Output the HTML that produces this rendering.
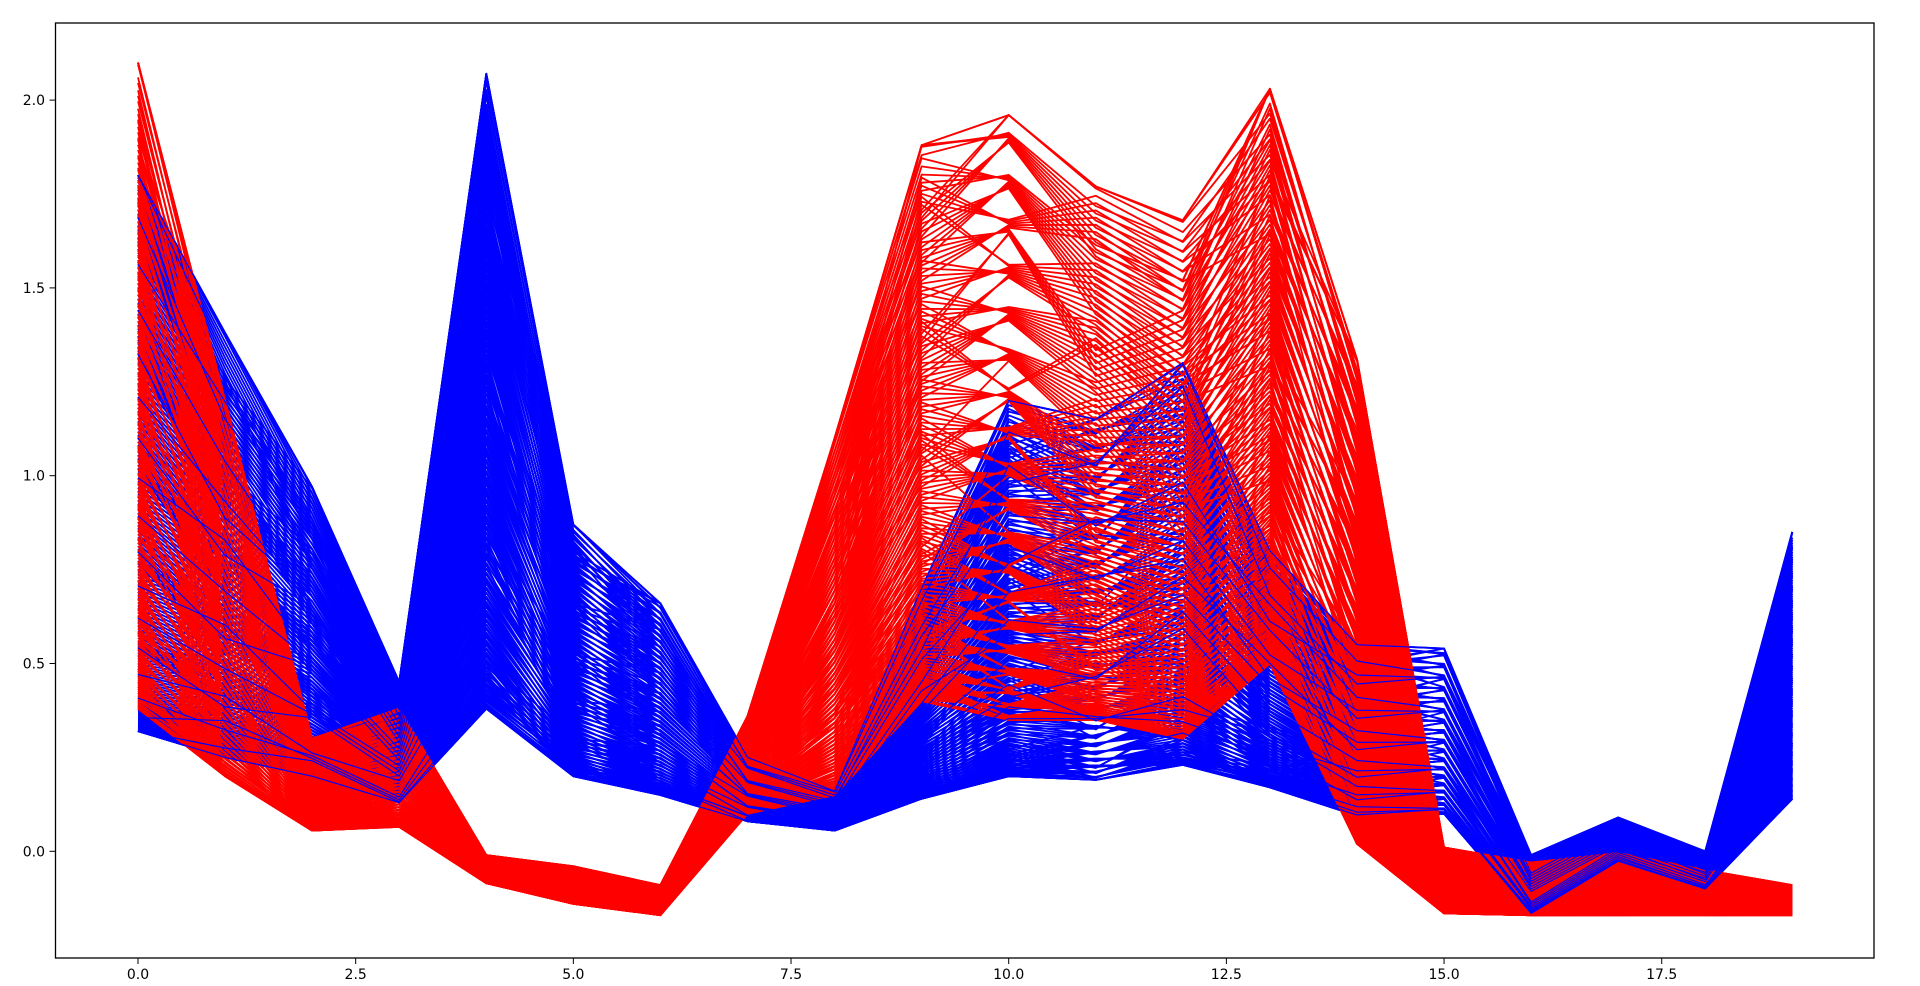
<!DOCTYPE html>
<html><head><meta charset="utf-8"><style>
html,body{margin:0;padding:0;background:#fff;}
svg{display:block;}
text{font-family:"DejaVu Sans","Liberation Sans",sans-serif;font-size:14px;fill:#000;}
</style></head><body>
<svg id="chart" width="1920" height="986" viewBox="0 0 1920 986" xmlns="http://www.w3.org/2000/svg">
<g id="lines"></g>
<rect x="55.5" y="23" width="1818.5" height="935" fill="none" stroke="#000" stroke-width="1.3"/>
<g id="axes"></g>
</svg>
<script>
const categories = [0,1,2,3,4,5,6,7,8,9,10,11,12,13,14,15,16,17,18,19];
const blueLow  = [0.32,0.25,0.20,0.13,0.38,0.20,0.15,0.08,0.055,0.14,0.20,0.19,0.23,0.17,0.095,0.10,-0.17,-0.03,-0.10,0.14];
const blueHigh = [1.80,1.38,0.97,0.45,2.07,0.87,0.66,0.25,0.16,0.70,1.20,1.15,1.30,0.80,0.55,0.54,-0.01,0.09,0.00,0.85];
const redLow   = [0.38,0.20,0.055,0.065,-0.085,-0.14,-0.17,0.10,0.15,0.40,0.35,0.35,0.30,0.50,0.02,-0.165,-0.17,-0.17,-0.17,-0.17];
const redHigh  = [2.10,1.20,0.30,0.38,-0.01,-0.04,-0.09,0.36,1.10,1.88,1.96,1.77,1.68,2.03,1.31,0.01,-0.03,-0.005,-0.05,-0.09];
const xTicks = [0,2.5,5,7.5,10,12.5,15,17.5];
const xTickLabels = ["0.0","2.5","5.0","7.5","10.0","12.5","15.0","17.5"];
const yTicks = [0,0.5,1,1.5,2];
const yTickLabels = ["0.0","0.5","1.0","1.5","2.0"];

const NS = "http://www.w3.org/2000/svg";
function xs(v){ return 138 + v*87.07; }
function ys(v){ return 851.3 - v*375.6; }

const g = document.getElementById('lines');
const N = 220;
const mults = [1,7,13,17,19,23,29,31,37,41,43,47,53,59,61,67,71,73,79,83];
function makeLine(lo, hi, k, shift, pw, color, sw){
  let d = '';
  const base = k/(N-1);
  categories.forEach((c,i)=>{
    const j = ((k*mults[(i+shift)%mults.length]) % N)/(N-1) - 0.5;
    let r = base + j*0.14;
    r = Math.max(0, Math.min(1, r));
    const t = Math.pow(r, pw);
    const v = lo[i] + t*(hi[i]-lo[i]);
    d += (i ? 'L' : 'M') + xs(c).toFixed(1) + ',' + ys(v).toFixed(1);
  });
  const p = document.createElementNS(NS,'path');
  p.setAttribute('d', d);
  p.setAttribute('fill','none');
  p.setAttribute('stroke', color);
  p.setAttribute('stroke-width', sw);
  p.setAttribute('stroke-linejoin','round');
  
  
  g.appendChild(p);
}
for (let k=0;k<N;k++){
  makeLine(blueLow, blueHigh, k, 0, 1.4, '#0000ff', '1.8');
}
for (let k=0;k<N;k++){
  makeLine(redLow, redHigh, k, 5, 1.5, '#ff0000', '1.8');
}
for (let k=3;k<N;k+=12){
  makeLine(blueLow, blueHigh, k, 0, 1.4, '#0000ff', '1.2');
}

const ax = document.getElementById('axes');
xTicks.forEach((v,i)=>{
  const l = document.createElementNS(NS,'line');
  l.setAttribute('x1',xs(v)); l.setAttribute('x2',xs(v));
  l.setAttribute('y1',958); l.setAttribute('y2',964);
  l.setAttribute('stroke','#000');
  
  
  ax.appendChild(l);
  const t = document.createElementNS(NS,'text');
  t.setAttribute('x',xs(v)); t.setAttribute('y',979);
  t.setAttribute('text-anchor','middle');
  t.textContent = xTickLabels[i];
  
  
  ax.appendChild(t);
});
yTicks.forEach((v,i)=>{
  const l = document.createElementNS(NS,'line');
  l.setAttribute('x1',49.5); l.setAttribute('x2',55.5);
  l.setAttribute('y1',ys(v)); l.setAttribute('y2',ys(v));
  l.setAttribute('stroke','#000');
  
  
  ax.appendChild(l);
  const t = document.createElementNS(NS,'text');
  t.setAttribute('x',45); t.setAttribute('y',ys(v)+5);
  t.setAttribute('text-anchor','end');
  t.textContent = yTickLabels[i];
  
  
  ax.appendChild(t);
});
</script>
</body></html>
